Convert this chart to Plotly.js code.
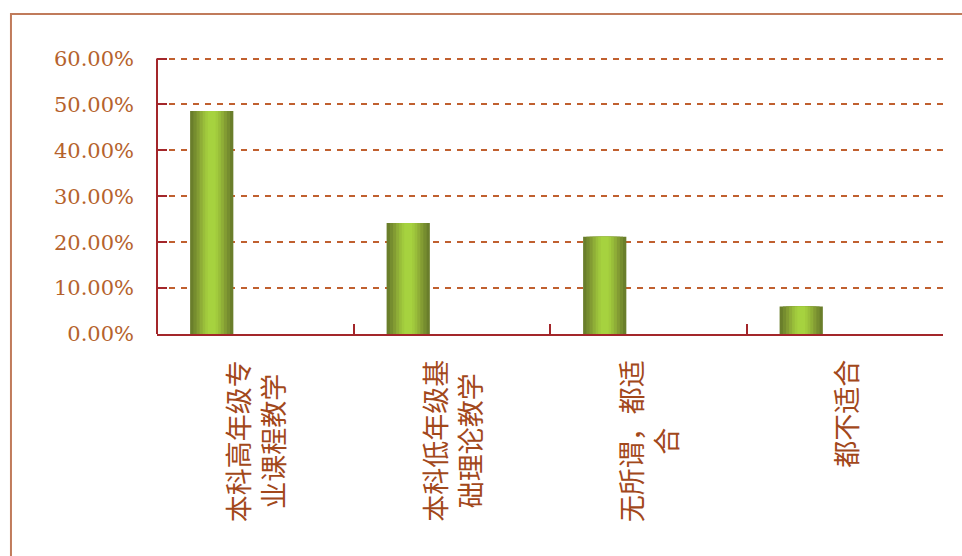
<!DOCTYPE html>
<html>
<head>
<meta charset="utf-8">
<script src="https://cdn.plot.ly/plotly-3.0.1.min.js"></script>
<style>
html,body{margin:0;padding:0;background:#fff;overflow:hidden;}
#chart{width:962px;height:556px;}
</style>
</head>
<body>
<div id="chart"></div>
<script>
// ---- data ----
const categories = ["本科高年级专业课程教学", "本科低年级基础理论教学", "无所谓，都适合", "都不适合"];
const tickLabels = ["本科高年级专<br>业课程教学", "本科低年级基<br>础理论教学", "无所谓，都适<br>合", "都不适合"];
const values = [0.486, 0.242, 0.212, 0.060];
const yTickValues = [0, 0.1, 0.2, 0.3, 0.4, 0.5, 0.6];

// ---- style ----
const barWidth = 0.22;
const barCenterOffset = -0.2215;
// gradient layers: from outer (dark) to inner (light)
const layerFractions = [1.0, 0.85, 0.7, 0.56, 0.42, 0.3, 0.18];
const layerColors = ["#6a7e2b", "#768d2f", "#839c33", "#8fae37", "#99be3a", "#a1ca3d", "#a6d23f"];

const traces = layerFractions.map((f, i) => {
  const w = barWidth * f;
  return {
    type: "bar",
    x: categories,
    y: values,
    width: w,
    offset: barCenterOffset - w / 2,
    marker: {color: layerColors[i], line: {width: 0}},
    hoverinfo: "skip",
    showlegend: false
  };
});

const annotations = categories.map((c, i) => ({
  x: c, xref: "x",
  y: 0, yref: "paper",
  yanchor: "top", xanchor: "center",
  yshift: -24,
  text: tickLabels[i],
  textangle: -90,
  align: "center",
  showarrow: false,
  font: {family: "Noto Sans CJK SC", size: 27, color: "#a2481b"}
}));

const layout = {
  width: 962, height: 556,
  margin: {l: 157, r: 19, t: 54, b: 222},
  paper_bgcolor: "#ffffff",
  plot_bgcolor: "#ffffff",
  barmode: "overlay",
  showlegend: false,
  xaxis: {
    type: "category",
    showticklabels: false,
    showline: true, linecolor: "#a3262a", linewidth: 2,
    ticks: "inside", tickson: "boundaries", ticklen: 10, tickwidth: 2, tickcolor: "#a3262a",
    showgrid: false, zeroline: false, fixedrange: true
  },
  yaxis: {
    range: [0, 0.61],
    tickvals: yTickValues,
    tickformat: ".2%",
    showline: false,
    ticks: "inside", ticklen: 10, tickwidth: 2, tickcolor: "#a3262a",
    ticklabelstandoff: 22,
    tickfont: {family: "DejaVu Serif", size: 21, color: "#b5622c"},
    showgrid: true, gridcolor: "#c0602f", gridwidth: 2, griddash: "6px,6px",
    zeroline: false, fixedrange: true
  },
  shapes: [
    {
      type: "rect", xref: "paper", yref: "paper",
      x0: -0.1858, x1: 1.05, y0: -0.82, y1: 1.143,
      line: {color: "#c07b5b", width: 2},
      fillcolor: "rgba(0,0,0,0)",
      layer: "below"
    },
    {
      // y-axis line from 0 to 60%
      type: "line", xref: "paper", yref: "y",
      x0: 0, x1: 0, y0: 0, y1: yTickValues[yTickValues.length - 1],
      line: {color: "#a3262a", width: 2},
      layer: "above"
    }
  ],
  annotations: annotations
};

Plotly.newPlot("chart", traces, layout, {displayModeBar: false, staticPlot: true});
</script>
</body>
</html>
